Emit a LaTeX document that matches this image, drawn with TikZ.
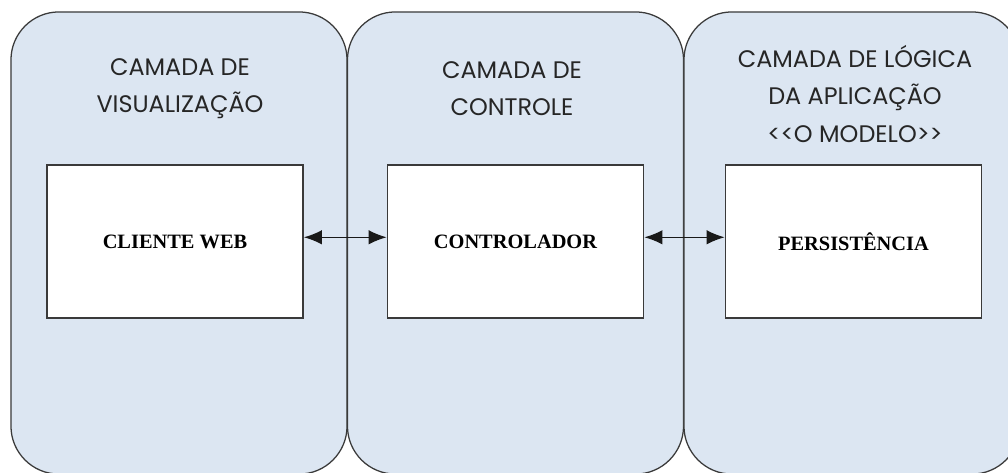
\documentclass[tikz,border=0pt]{standalone}
\usepackage{fontspec}
\newfontfamily\layerfont{Poppins}
\newfontfamily\compfont{Liberation Serif}
\usetikzlibrary{arrows.meta, positioning}

\definecolor{layerblue}{HTML}{DCE6F2}
\definecolor{edgegray}{HTML}{3A3A3A}

\begin{document}
\begin{tikzpicture}[x=0.025cm,y=-0.025cm]

\tikzstyle{layer} = [draw=edgegray, fill=layerblue, rounded corners=1.2cm,
  line width=0.9pt, minimum width=8.4cm, minimum height=11.55cm, inner sep=0pt]
\tikzstyle{title} = [font=\layerfont\fontsize{17}{26.5}\selectfont, align=center, text=black!85]
\tikzstyle{comp}  = [draw=edgegray, fill=white, line width=1.1pt,
  minimum width=6.4cm, minimum height=3.82cm, font=\compfont\bfseries\fontsize{14.5}{17}\selectfont]
\tikzstyle{link}  = [<->, >={Latex[length=4.5mm,width=3.6mm]}, line width=1.1pt, black!90]

\useasboundingbox (0,0) rectangle (1008,473);
\clip (0,0) rectangle (1008,473);

% camadas
\node[layer] (vis) at (179,243) {};
\node[layer] (ctl) at (515.5,243) {};
\node[layer] (mod) at (852,243) {};

\node[title] (visT) at (180,89) {CAMADA DE\\VISUALIZAÇÃO};
\node[title] (ctlT) at (512,89) {CAMADA DE\\CONTROLE};
\node[title] (modT) at (855,94) {CAMADA DE LÓGICA\\DA APLICAÇÃO\\<{}<O MODELO>{}>};

% componentes
\node[comp] (cliente) at (175,241.5) {CLIENTE WEB};
\node[comp] (controlador) at (515.5,241.5) {CONTROLADOR};
\node[comp] (persist) at (853.5,241.5) {PERSISTÊNCIA};

\draw[link] ([yshift=3pt]cliente.east) -- ([yshift=3pt]controlador.west);
\draw[link] ([yshift=3pt]controlador.east) -- ([yshift=3pt]persist.west);

\end{tikzpicture}
\end{document}
